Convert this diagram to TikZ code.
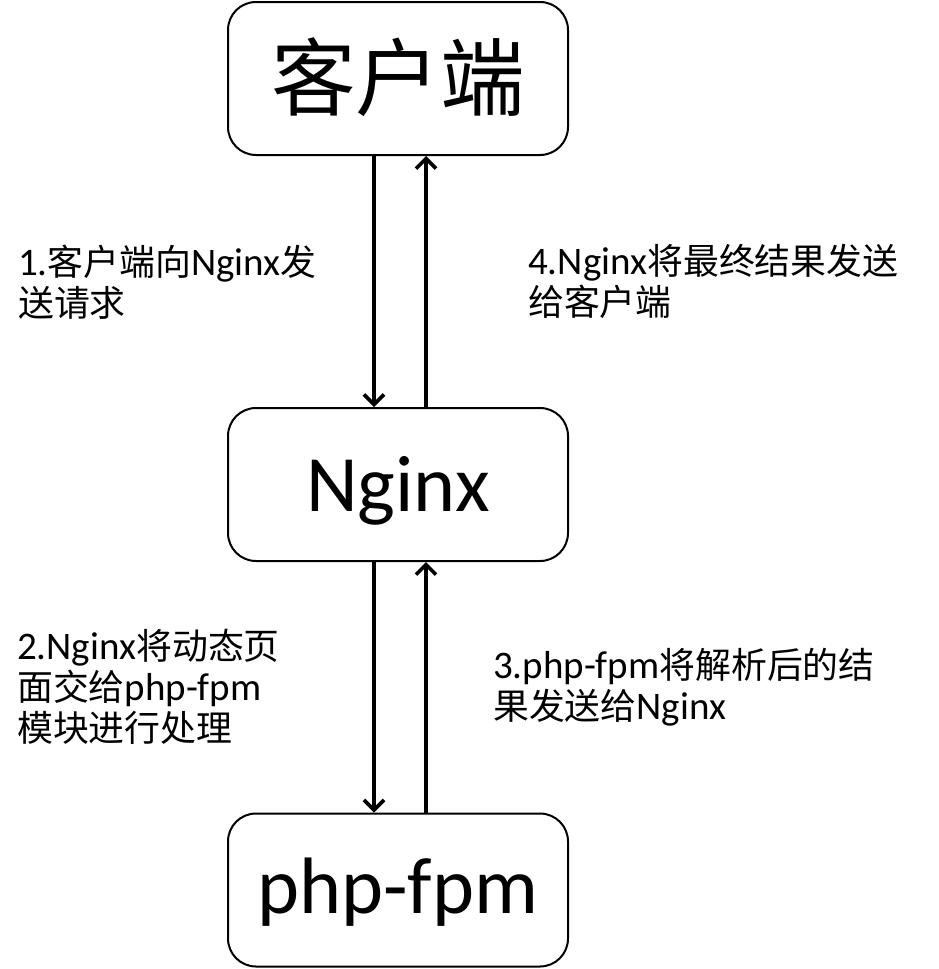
\documentclass[tikz,border=0pt]{standalone}
\usepackage{fontspec}
\setmainfont{Carlito}
\newfontfamily\cjk[Scale=0.92]{Noto Sans CJK SC}
\usetikzlibrary{arrows.meta}
\begin{document}
\begin{tikzpicture}[x=1pt,y=1pt,
  box/.style={draw, line width=2pt, rounded corners=28pt, minimum width=340pt, minimum height=153pt, inner sep=0pt},
  big/.style={inner sep=0pt, font=\fontsize{80}{84}\selectfont},
  flow/.style={line width=3.6pt, -{Straight Barb[length=10pt,width=20pt]}},
  lbl/.style={anchor=north west, align=left, inner sep=0pt, font=\fontsize{39}{41}\selectfont}]
\useasboundingbox (0,0) rectangle (939,-969);
\node[box] (client) at (398,-78.5) {};
\node[box] (nginx) at (398,-484.5) {};
\node[box] (php) at (398,-890) {};
\node[big] (tclient) at ([yshift=1pt]client.center) {{\fontsize{92}{96}\selectfont\cjk 客户端}};
\node[big] (tnginx) at ([yshift=-6pt]nginx.center) {Nginx};
\node[big] (tphp) at ([yshift=-2pt]php.center) {php-fpm};
\draw[flow] ([xshift=-24pt]client.south) -- ([xshift=-24pt]nginx.north);
\draw[flow] ([xshift=28pt]nginx.north) -- ([xshift=28pt]client.south);
\draw[flow] ([xshift=-24pt]nginx.south) -- ([xshift=-24pt]php.north);
\draw[flow] ([xshift=28pt]php.north) -- ([xshift=28pt]nginx.south);
\node[lbl] (l1) at (18,-245) {1.{\cjk 客户端向}Nginx{\cjk 发}\\{\cjk 送请求}};
\node[lbl] (l4) at (528,-244) {4.Nginx{\cjk 将最终结果发送}\\{\cjk 给客户端}};
\node[lbl] (l2) at (17,-629) {2.Nginx{\cjk 将动态页}\\{\cjk 面交给}php-fpm\\{\cjk 模块进行处理}};
\node[lbl] (l3) at (493,-648) {3.php-fpm{\cjk 将解析后的结}\\{\cjk 果发送给}Nginx};
\end{tikzpicture}
\end{document}
